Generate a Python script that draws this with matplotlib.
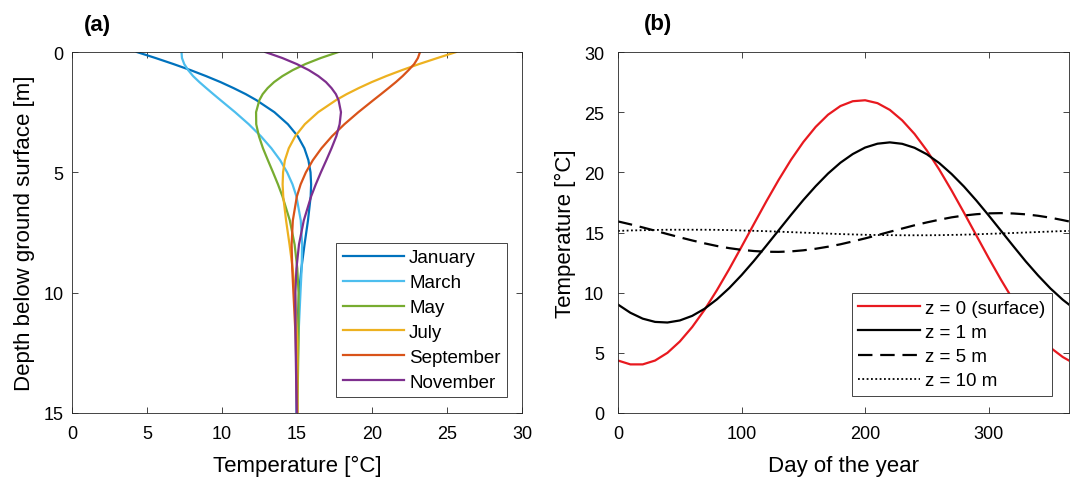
import numpy as np
import matplotlib
matplotlib.use("Agg")
from matplotlib import pyplot as plt

plt.rcParams["font.family"] = ["Liberation Sans", "DejaVu Sans"]

# (a) temperature profiles vs depth, one per month
depth = [0, 0.25, 0.5, 0.75, 1, 1.25, 1.5, 1.75, 2, 2.5, 3, 3.5, 4, 4.5, 5, 5.5, 6,
         7, 8, 9, 10, 12, 15]
months = ["January", "March", "May", "July", "September", "November"]
month_colors = ["#0072BD", "#4DBEEE", "#77AC30", "#EDB120", "#D95319", "#7E2F8E"]
profile_jan = [4.32, 5.57, 6.76, 7.89, 8.93, 9.90, 10.77, 11.58, 12.29, 13.49, 14.39,
               15.05, 15.49, 15.76, 15.90, 15.94, 15.91, 15.73, 15.50, 15.29, 15.14,
               14.98, 14.97]
profile_mar = [7.30, 7.33, 7.48, 7.74, 8.07, 8.49, 8.95, 9.42, 9.90, 10.87, 11.78,
               12.59, 13.29, 13.88, 14.34, 14.70, 14.96, 15.25, 15.34, 15.31, 15.23,
               15.08, 14.99]
profile_may = [17.76, 16.58, 15.56, 14.72, 14.03, 13.47, 13.04, 12.71, 12.49, 12.27,
               12.28, 12.46, 12.73, 13.06, 13.40, 13.73, 14.03, 14.52, 14.84, 15.02,
               15.10, 15.10, 15.02]
profile_jul = [25.61, 24.36, 23.14, 22.01, 20.95, 19.98, 19.11, 18.31, 17.60, 16.41,
               15.52, 14.88, 14.45, 14.19, 14.07, 14.04, 14.08, 14.27, 14.50, 14.71,
               14.87, 15.02, 15.03]
profile_sep = [23.20, 23.06, 22.81, 22.44, 22.04, 21.59, 21.10, 20.60, 20.09, 19.09,
               18.16, 17.33, 16.63, 16.05, 15.59, 15.24, 14.99, 14.72, 14.64, 14.68,
               14.76, 14.92, 15.01]
profile_nov = [12.88, 14.02, 14.98, 15.78, 16.42, 16.93, 17.30, 17.59, 17.77, 17.93,
               17.84, 17.62, 17.30, 16.95, 16.59, 16.25, 15.94, 15.45, 15.13, 14.96,
               14.89, 14.90, 14.98]
profiles = [profile_jan, profile_mar, profile_may, profile_jul, profile_sep, profile_nov]

# (b) temperature through the year at four depths
day = [0, 10, 20, 30, 40, 50, 60, 70, 80, 90, 100, 110, 120, 130, 140, 150, 160, 170,
       180, 190, 200, 210, 220, 230, 240, 250, 260, 270, 280, 290, 300, 310, 320,
       330, 340, 350, 360, 365]
temp_z0 = [4.36, 4.04, 4.04, 4.36, 5.00, 5.94, 7.14, 8.57, 10.20, 11.96, 13.82, 15.71,
           17.58, 19.37, 21.04, 22.52, 23.78, 24.79, 25.51, 25.91, 25.99, 25.75, 25.19,
           24.32, 23.19, 21.81, 20.23, 18.49, 16.65, 14.76, 12.88, 11.07, 9.36, 7.83,
           6.51, 5.43, 4.65, 4.36]
temp_z1 = [9.01, 8.33, 7.84, 7.57, 7.52, 7.69, 8.07, 8.66, 9.44, 10.38, 11.46, 12.64,
           13.90, 15.18, 16.46, 17.70, 18.85, 19.90, 20.80, 21.52, 22.06, 22.38, 22.49,
           22.37, 22.04, 21.50, 20.77, 19.86, 18.82, 17.66, 16.42, 15.14, 13.86, 12.60,
           11.43, 10.35, 9.41, 9.01]
temp_z5 = [15.92, 15.68, 15.42, 15.15, 14.87, 14.60, 14.34, 14.10, 13.88, 13.70, 13.56,
           13.46, 13.40, 13.39, 13.43, 13.52, 13.65, 13.82, 14.02, 14.26, 14.51, 14.78,
           15.06, 15.33, 15.60, 15.84, 16.06, 16.26, 16.41, 16.52, 16.59, 16.61, 16.58,
           16.51, 16.39, 16.23, 16.03, 15.92]
temp_z10 = [15.13, 15.17, 15.19, 15.21, 15.23, 15.23, 15.23, 15.23, 15.22, 15.20, 15.17,
            15.14, 15.11, 15.07, 15.03, 14.99, 14.95, 14.91, 14.87, 14.84, 14.81, 14.79,
            14.78, 14.77, 14.77, 14.77, 14.78, 14.80, 14.82, 14.85, 14.89, 14.92, 14.96,
            15.00, 15.04, 15.08, 15.12, 15.13]
depth_labels = ["z = 0 (surface)", "z = 1 m", "z = 5 m", "z = 10 m"]


def matlab_axes(ax, ypad):
    for s in ax.spines.values():
        s.set_color("#262626")
        s.set_linewidth(0.6)
    ax.tick_params(direction="in", length=4, width=0.6, color="#262626",
                   top=True, right=True, labelsize=13)
    ax.tick_params(axis="x", pad=9)
    ax.tick_params(axis="y", pad=ypad)


def matlab_legend(ax, anchor, spacing):
    leg = ax.legend(loc="lower right", bbox_to_anchor=anchor, fontsize=13.5,
                    handlelength=3.3, handletextpad=0.25, labelspacing=spacing,
                    borderpad=0.35, borderaxespad=0, fancybox=False, framealpha=1)
    leg.get_frame().set_edgecolor("#262626")
    leg.get_frame().set_linewidth(0.6)
    return leg


fig = plt.figure(figsize=(10.75, 4.81), dpi=100)
ax1 = fig.add_axes([0.067, 0.1393, 0.4186, 0.7505])
ax2 = fig.add_axes([0.5749, 0.1393, 0.4195, 0.7505])

for name, col, prof in zip(months, month_colors, profiles):
    ax1.plot(prof, depth, color=col, lw=1.6, label=name)
ax1.set_xlim(0, 30)
ax1.set_ylim(15, 0)
ax1.set_xticks(range(0, 31, 5))
ax1.set_yticks([0, 5, 10, 15])
ax1.set_xlabel("Temperature [°C]", fontsize=16, labelpad=9)
ax1.set_ylabel("Depth below ground surface [m]", fontsize=16, labelpad=6)
matlab_axes(ax1, 6)
matlab_legend(ax1, (0.967, 0.044), 0.41)
ax1.text(0.056, 1.075, "(a)", transform=ax1.transAxes, fontsize=16,
         fontweight="bold", ha="center", va="center")

ax2.plot(day, temp_z0, color="#E8191F", lw=1.6, label=depth_labels[0])
ax2.plot(day, temp_z1, color="black", lw=1.6, label=depth_labels[1])
ax2.plot(day, temp_z5, color="black", lw=1.6, ls=(0, (6.5, 3.5)), label=depth_labels[2])
ax2.plot(day, temp_z10, color="black", lw=1.3, ls=(0, (1, 1.4)), label=depth_labels[3])
ax2.set_xlim(0, 365)
ax2.set_ylim(0, 30)
ax2.set_xticks([0, 100, 200, 300])
ax2.set_yticks(range(0, 31, 5))
ax2.set_xlabel("Day of the year", fontsize=16, labelpad=9)
ax2.set_ylabel("Temperature [°C]", fontsize=16, labelpad=6)
matlab_axes(ax2, 10)
matlab_legend(ax2, (0.962, 0.047), 0.38)
ax2.text(0.089, 1.08, "(b)", transform=ax2.transAxes, fontsize=16,
         fontweight="bold", ha="center", va="center")

fig.savefig("out.png", dpi=100)
